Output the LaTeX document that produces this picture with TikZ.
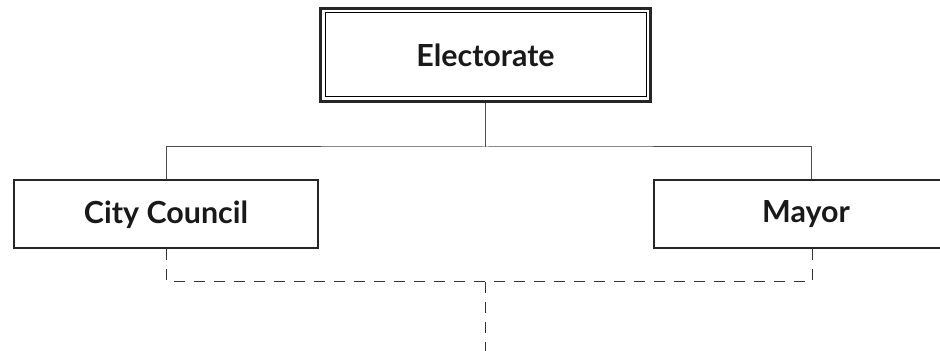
\documentclass[tikz,border=0pt]{standalone}
\usepackage{fontspec}
\setmainfont{Lato}
\begin{document}
\begin{tikzpicture}[x=0.5pt,y=-0.5pt,
	office/.style={draw=black!85,line width=1pt,minimum width=152pt,minimum height=34pt,font=\fontsize{15.2}{18}\selectfont\bfseries,text=black!90},
	voters/.style={office,line width=1.5pt,minimum width=165pt,minimum height=46.5pt},
	link/.style={draw=black!70,line width=0.5pt},
	adviselink/.style={draw=black!80,line width=0.5pt,dash pattern=on 5.5pt off 4.5pt}]
	\useasboundingbox (0,0) rectangle (940,351);
	\node[voters] (elect) at (485.5,55) {Electorate};
	\draw[line width=0.5pt] ([shift={(3pt,-3pt)}]elect.north west) rectangle ([shift={(-3pt,3pt)}]elect.south east);
	\node[office] (council) at (166,214.5) {City Council};
	\node[office] (mayor) at (806,214.5) {Mayor};
	\coordinate (split) at (485.5,147);
	\coordinate (joint) at (485.5,282);
	\coordinate (down) at (485.5,351);
	\draw[link] (elect.south) -- (split);
	\draw[link] (council.north) |- (split) -| ([xshift=2.5pt]mayor.north);
	\draw[adviselink] (council.south) |- (joint) -| ([xshift=3pt]mayor.south);
	\draw[adviselink] (joint) -- (down);
\end{tikzpicture}
\end{document}
